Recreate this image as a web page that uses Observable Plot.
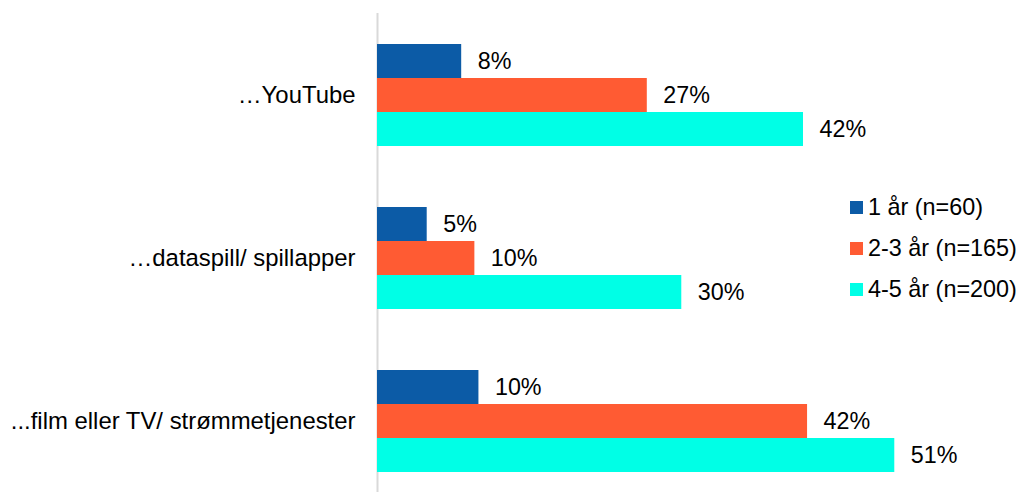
<!DOCTYPE html>
<html>
<head>
<meta charset="utf-8">
<script src="https://cdn.jsdelivr.net/npm/d3@7"></script>
<script src="https://cdn.jsdelivr.net/npm/@observablehq/plot@0.6"></script>
<style>
  html, body { margin: 0; padding: 0; background: #fff; }
  #wrap { position: relative; width: 1022px; height: 495px; font-family: "Liberation Sans", Arial, sans-serif; }
  #legend { position: absolute; left: 850px; top: 187px; }
  .row { display: flex; align-items: center; height: 41px; font-size: 23.4px; color: #000; white-space: nowrap; }
  .sw { width: 13px; height: 13px; margin-right: 5px; }
</style>
</head>
<body>
<div id="wrap"><div id="legend"></div></div>
<script>
const categories = ["…YouTube", "…dataspill/ spillapper", "...film eller TV/ strømmetjenester"];
const series = ["1 år (n=60)", "2-3 år (n=165)", "4-5 år (n=200)"];
const values1 = [8.3, 4.9, 10.0];    // 1 år
const values2 = [26.6, 9.6, 42.4];   // 2-3 år
const values3 = [42.0, 30.0, 51.0];  // 4-5 år
const colors = ["#0c5ba6", "#ff5b33", "#00ffe6"];

const seriesValues = [values1, values2, values3];
const data = [];
series.forEach((s, i) => categories.forEach((c, j) => data.push({cat: c, series: s, value: seriesValues[i][j]})));

const offsets = [-34, 0, 34];
const marks = [Plot.ruleX([0], {stroke: "#d9d9d9", strokeWidth: 2})];
series.forEach((s, i) => {
  const rows = data.filter(d => d.series === s);
  marks.push(Plot.barX(rows, {x: "value", y: "cat", fill: "series", insetTop: 34, insetBottom: 34, dy: offsets[i]}));
  marks.push(Plot.text(rows, {x: "value", y: "cat", text: d => Math.round(d.value) + "%", dx: 16, dy: offsets[i], textAnchor: "start", fontSize: 23.3, fill: "#000"}));
});
marks.push(Plot.axisY({tickSize: 0, tickPadding: 22, fontSize: 23.9, label: null}));

const chart = Plot.plot({
  width: 1022,
  height: 495,
  marginLeft: 377,
  marginRight: 6,
  marginTop: 13,
  marginBottom: 3,
  style: {fontFamily: "'Liberation Sans', Arial, sans-serif", color: "#000", background: "#fff"},
  x: {domain: [0, 63], axis: null},
  y: {domain: categories, paddingInner: 0.3742, paddingOuter: 0.1564, align: 0.608, axis: null},
  color: {domain: series, range: colors},
  marks
});
const wrap = document.getElementById("wrap");
wrap.insertBefore(chart, wrap.firstChild);

const legend = document.getElementById("legend");
series.forEach((s, i) => {
  const row = document.createElement("div");
  row.className = "row";
  const sw = document.createElement("span");
  sw.className = "sw";
  sw.style.background = colors[i];
  const t = document.createElement("span");
  t.textContent = s;
  row.appendChild(sw);
  row.appendChild(t);
  legend.appendChild(row);
});
</script>
</body>
</html>
